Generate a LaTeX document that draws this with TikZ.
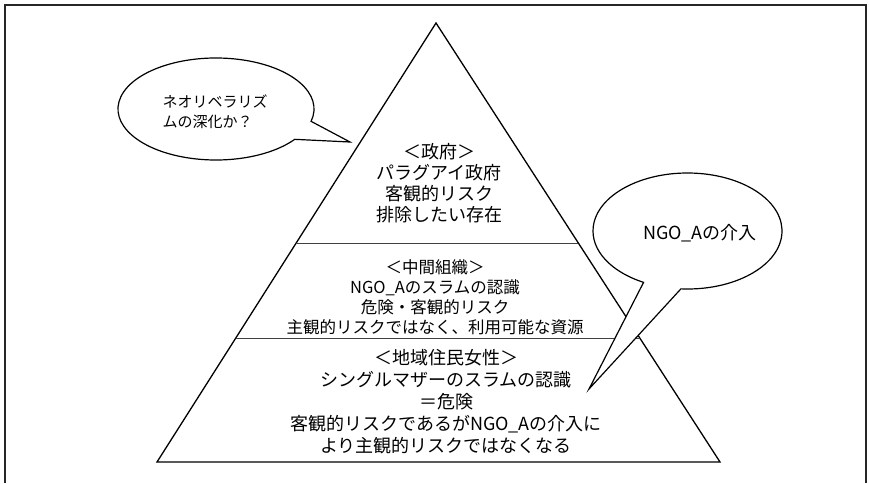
\documentclass[tikz,border=0pt]{standalone}
\usepackage{fontspec}
\setmainfont{Noto Sans CJK JP}
\usetikzlibrary{calc}
\begin{document}
\begin{tikzpicture}[x=1pt,y=1pt,
  edge/.style={line width=1.3pt, line join=miter},
  divider/.style={line width=0.7pt, draw=black!75},
  bubble/.style={line width=1.2pt, fill=white, draw=black, line join=miter},
  txt/.style={align=center, inner sep=0pt},
  bigtxt/.style={txt, font=\fontsize{18}{21}\selectfont},
  midtxt/.style={txt, font=\fontsize{16.5}{20}\selectfont},
  lowtxt/.style={txt, font=\fontsize{18}{22}\selectfont}]
\useasboundingbox (0,0) rectangle (869,483);
% frame
\draw[line width=1.3pt, draw=black!85] (5,0) -- (5,478) -- (866,478) -- (866,0);
% pyramid
\coordinate (apex) at (436,460);
\coordinate (bl) at (157,21);
\coordinate (br) at (720,21);
\draw[edge] (apex) -- (bl) -- (br) -- cycle;
\coordinate (d1l) at ($(apex)!0.501!(bl)$);
\coordinate (d1r) at ($(apex)!0.501!(br)$);
\coordinate (d2l) at ($(apex)!0.7175!(bl)$);
\coordinate (d2r) at ($(apex)!0.7175!(br)$);
\draw[divider] (d1l) -- (d1r);
\draw[divider] (d2l) -- (d2r);
% texts in pyramid
\node[bigtxt] (gov) at (439,299.5) {＜政府＞\\パラグアイ政府\\客観的リスク\\排除したい存在};
\node[midtxt] (mid) at (435,186) {＜中間組織＞\\NGO\_Aのスラムの認識\\危険・客観的リスク\\主観的リスクではなく、利用可能な資源};
\node[lowtxt] (low) at (446,81.5) {＜地域住民女性＞\\シングルマザーのスラムの認識\\＝危険\\客観的リスクであるがNGO\_Aの介入に\\より主観的リスクではなくなる};
% left bubble
\coordinate (ltip) at (350,341);
\draw[bubble] (216,374) ++(-14:98 and 51) arc[start angle=-14, end angle=323.5, x radius=98, y radius=51] -- (ltip) -- cycle;
\node[txt, align=left, font=\fontsize{15}{20}\selectfont] (neo) at (215,371) {ネオリベラリズ\\ムの深化か？};
% right bubble
\coordinate (rtip) at (589,94);
\draw[bubble] (687.5,252) ++(266:94.5 and 58) arc[start angle=266, end angle=602.3, x radius=94.5, y radius=58] -- (rtip) -- cycle;
\node[txt, font=\fontsize{18}{21}\selectfont] (ngo) at (700,250) {NGO\_Aの介入};
\end{tikzpicture}
\end{document}
